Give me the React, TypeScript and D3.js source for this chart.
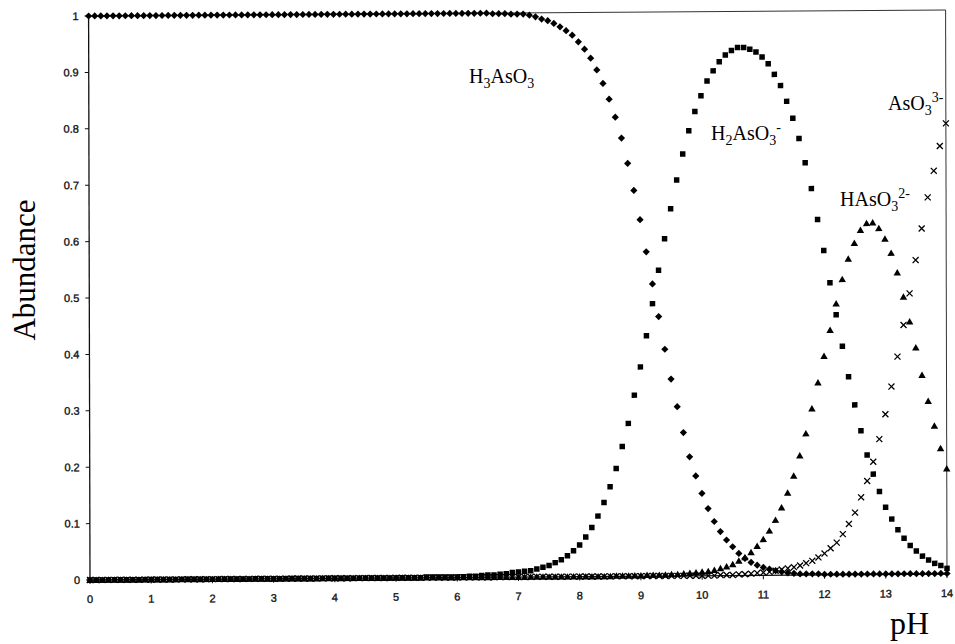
import React from "react";
import * as d3 from "d3";

// pH grid, 0 to 14 in steps of 0.1
const pH: number[] = d3.range(0, 141).map((i) => +(i / 10).toFixed(1));

// Species abundance at each pH point
const h3aso3: number[] = [
  1, 1, 1, 1, 1, 1, 1, 1, 1, 1,
  1, 1, 1, 1, 1, 1, 1, 1, 1, 1,
  1, 1, 1, 1, 1, 1, 1, 1, 1, 1,
  1, 1, 1, 1, 1, 1, 1, 1, 1, 1,
  1, 1, 1, 1, 1, 1, 1, 1, 1, 1,
  1, 1, 1, 1, 1, 1, 1, 1, 1, 1,
  1, 1, 1, 1, 1, 1, 0.999, 0.999, 0.999, 0.998,
  0.998, 0.998, 0.996, 0.993, 0.989, 0.986, 0.981, 0.975, 0.968, 0.96,
  0.948, 0.935, 0.919, 0.898, 0.874, 0.846, 0.814, 0.777, 0.732, 0.684,
  0.632, 0.575, 0.518, 0.46, 0.402, 0.349, 0.3, 0.254, 0.211, 0.177,
  0.146, 0.119, 0.096, 0.078, 0.063, 0.051, 0.039, 0.03, 0.023, 0.018,
  0.014, 0.011, 0.008, 0.006, 0.004, 0.003, 0.002, 0.002, 0.002, 0.002,
  0.001, 0.001, 0.001, 0.001, 0.001, 0.001, 0.001, 0.001, 0.001, 0.001,
  0.001, 0.001, 0.001, 0.001, 0.001, 0.001, 0.001, 0.001, 0.001, 0.001,
  0.001,
];

const h2aso3: number[] = [
  0, 0, 0, 0, 0, 0, 0, 0, 0, 0,
  0, 0, 0, 0, 0, 0, 0, 0, 0, 0,
  0, 0, 0, 0, 0, 0, 0, 0, 0, 0,
  0, 0, 0, 0, 0, 0, 0, 0, 0, 0,
  0, 0, 0, 0, 0, 0, 0, 0, 0, 0,
  0, 0, 0, 0, 0, 0.001, 0.001, 0.001, 0.001, 0.001,
  0.001, 0.001, 0.002, 0.002, 0.003, 0.004, 0.004, 0.005, 0.006, 0.008,
  0.009, 0.01, 0.011, 0.014, 0.017, 0.02, 0.025, 0.03, 0.037, 0.046,
  0.056, 0.07, 0.087, 0.107, 0.131, 0.159, 0.191, 0.23, 0.271, 0.321,
  0.371, 0.426, 0.483, 0.542, 0.598, 0.651, 0.702, 0.748, 0.789, 0.823,
  0.851, 0.877, 0.895, 0.911, 0.923, 0.931, 0.936, 0.936, 0.933, 0.928,
  0.919, 0.907, 0.888, 0.868, 0.84, 0.81, 0.774, 0.731, 0.685, 0.63,
  0.575, 0.518, 0.461, 0.405, 0.351, 0.301, 0.255, 0.212, 0.178, 0.147,
  0.119, 0.098, 0.079, 0.064, 0.051, 0.041, 0.032, 0.025, 0.019, 0.015,
  0.01,
];

const haso3: number[] = [
  0, 0, 0, 0, 0, 0, 0, 0, 0, 0,
  0, 0, 0, 0, 0, 0, 0, 0, 0, 0,
  0, 0, 0, 0, 0, 0, 0, 0, 0, 0,
  0, 0, 0, 0, 0, 0, 0, 0, 0, 0,
  0, 0, 0, 0, 0, 0, 0, 0, 0, 0,
  0, 0, 0, 0, 0, 0, 0, 0, 0, 0,
  0, 0, 0, 0, 0, 0, 0, 0, 0, 0,
  0, 0, 0, 0, 0, 0, 0, 0, 0, 0,
  0, 0, 0, 0, 0, 0, 0.001, 0.001, 0.001, 0.001,
  0.001, 0.002, 0.002, 0.002, 0.002, 0.003, 0.003, 0.004, 0.005, 0.006,
  0.007, 0.008, 0.01, 0.013, 0.016, 0.02, 0.026, 0.032, 0.041, 0.052,
  0.064, 0.079, 0.098, 0.12, 0.146, 0.176, 0.212, 0.251, 0.295, 0.341,
  0.388, 0.434, 0.481, 0.524, 0.56, 0.588, 0.611, 0.623, 0.624, 0.614,
  0.595, 0.57, 0.535, 0.492, 0.448, 0.402, 0.353, 0.307, 0.263, 0.223,
  0.187,
];

const aso3: number[] = [
  0, 0, 0, 0, 0, 0, 0, 0, 0, 0,
  0, 0, 0, 0, 0, 0, 0, 0, 0, 0,
  0, 0, 0, 0, 0, 0, 0, 0, 0, 0,
  0, 0, 0, 0, 0, 0, 0, 0, 0, 0,
  0, 0, 0, 0, 0, 0, 0, 0, 0, 0,
  0, 0, 0, 0, 0, 0, 0, 0, 0, 0,
  0, 0, 0, 0, 0, 0, 0, 0, 0, 0,
  0, 0, 0, 0, 0, 0, 0, 0, 0, 0,
  0, 0, 0, 0, 0, 0, 0, 0, 0, 0,
  0, 0, 0, 0, 0, 0, 0, 0, 0, 0,
  0, 0, 0, 0.001, 0.001, 0.001, 0.002, 0.002, 0.003, 0.004,
  0.005, 0.006, 0.008, 0.01, 0.012, 0.014, 0.017, 0.021, 0.025, 0.031,
  0.038, 0.047, 0.057, 0.072, 0.09, 0.11, 0.137, 0.166, 0.2, 0.24,
  0.284, 0.333, 0.386, 0.442, 0.498, 0.557, 0.613, 0.668, 0.715, 0.759,
  0.799,
];

const xTicks: number[] = [0, 1, 2, 3, 4, 5, 6, 7, 8, 9, 10, 11, 12, 13, 14];
const yTicks: number[] = [0, 0.1, 0.2, 0.3, 0.4, 0.5, 0.6, 0.7, 0.8, 0.9, 1];

const serif = "'Liberation Serif', 'Times New Roman', serif";
const sans = "'Liberation Sans', Arial, sans-serif";

export default function App() {
  const x = d3.scaleLinear().domain([0, 14]).range([90, 947]);
  const y = d3.scaleLinear().domain([0, 1]).range([580, 16]);

  const squarePath = d3.symbol().type(d3.symbolSquare).size(30)() as string;
  const diamondPath = d3.symbol().type(d3.symbolSquare).size(26)() as string;
  const trianglePath = d3.symbol().type(d3.symbolTriangle).size(24)() as string;

  const fmt = (v: number) => String(+v.toFixed(1));

  return (
    <svg
      width={955}
      height={644}
      style={{ position: "absolute", left: 0, top: 0, background: "#fff" }}
    >
      <rect width={955} height={644} fill="#fff" />
      {/* plot body, slightly sheared like the printed page */}
      <g transform="matrix(1,-0.007,0.0025,1,-1.45,0.63)">
        {/* frame */}
        <line x1={x(0)} x2={x(14)} y1={y(1)} y2={y(1)} stroke="#333" strokeWidth={1} />
        <line x1={x(14)} x2={x(14)} y1={y(1)} y2={y(0)} stroke="#333" strokeWidth={1} />
        <line x1={x(0)} x2={x(0)} y1={y(1)} y2={y(0)} stroke="#111" strokeWidth={1.3} />
        <line x1={x(0)} x2={x(14)} y1={y(0)} y2={y(0)} stroke="#111" strokeWidth={1.3} />

        {/* y axis ticks */}
        {yTicks.map((t) => (
          <g key={"y" + t}>
            <line x1={x(0) - 4} x2={x(0)} y1={y(t)} y2={y(t)} stroke="#111" strokeWidth={1} />
            <text
              x={x(0) - 10}
              y={y(t)}
              dy="0.35em"
              textAnchor="end"
              fontFamily={sans}
              fontSize={11}
              fill="#111"
              stroke="#111"
              strokeWidth={0.35}
            >
              {fmt(t)}
            </text>
          </g>
        ))}

        {/* x axis ticks */}
        {xTicks.map((t) => (
          <g key={"x" + t}>
            <line x1={x(t)} x2={x(t)} y1={y(0)} y2={y(0) + 4} stroke="#111" strokeWidth={1} />
            <text
              x={x(t)}
              y={y(0) + 23}
              textAnchor="middle"
              fontFamily={sans}
              fontSize={11}
              fill="#111"
              stroke="#111"
              strokeWidth={0.35}
            >
              {t}
            </text>
          </g>
        ))}

        {/* H3AsO3 */}
        {pH.map((p, i) => (
          <path
            key={"d" + i}
            d={diamondPath}
            transform={`translate(${x(p)},${y(h3aso3[i])}) rotate(45)`}
            fill="#000"
          />
        ))}
        {/* H2AsO3- */}
        {pH.map((p, i) => (
          <path
            key={"s" + i}
            d={squarePath}
            transform={`translate(${x(p)},${y(h2aso3[i])})`}
            fill="#000"
          />
        ))}
        {/* HAsO3 2- */}
        {pH.map((p, i) => (
          <path
            key={"t" + i}
            d={trianglePath}
            transform={`translate(${x(p)},${y(haso3[i]) + 0.8})`}
            fill="#000"
          />
        ))}
        {/* AsO3 3- */}
        {pH.map((p, i) => {
          const cx = x(p);
          const cy = y(aso3[i]);
          const r = 3;
          return (
            <path
              key={"c" + i}
              d={`M${cx - r},${cy - r}L${cx + r},${cy + r}M${cx - r},${cy + r}L${cx + r},${cy - r}`}
              stroke="#000"
              strokeWidth={1.3}
              fill="none"
            />
          );
        })}
      </g>

      {/* species labels */}
      <text x={469} y={83} fontFamily={serif} fontSize={20} fill="#000">
        H<tspan fontSize={14} dy={5}>3</tspan>
        <tspan dy={-5}>AsO</tspan>
        <tspan fontSize={14} dy={5}>3</tspan>
      </text>
      <text x={711} y={140} fontFamily={serif} fontSize={20} fill="#000">
        H<tspan fontSize={14} dy={5}>2</tspan>
        <tspan dy={-5}>AsO</tspan>
        <tspan fontSize={14} dy={5}>3</tspan>
        <tspan fontSize={14} dy={-13}>-</tspan>
      </text>
      <text x={840} y={206} fontFamily={serif} fontSize={20} fill="#000">
        HAsO<tspan fontSize={14} dy={5}>3</tspan>
        <tspan fontSize={14} dy={-13}>2-</tspan>
      </text>
      <text x={888} y={110} fontFamily={serif} fontSize={20} fill="#000">
        AsO<tspan fontSize={14} dy={5}>3</tspan>
        <tspan fontSize={14} dy={-13}>3-</tspan>
      </text>

      {/* axis titles */}
      <text
        transform="translate(35,270) rotate(-90)"
        textAnchor="middle"
        fontFamily={serif}
        fontSize={31}
        fill="#000"
      >
        Abundance
      </text>
      <text x={890} y={634} fontFamily={serif} fontSize={32} fill="#000">
        pH
      </text>
    </svg>
  );
}
